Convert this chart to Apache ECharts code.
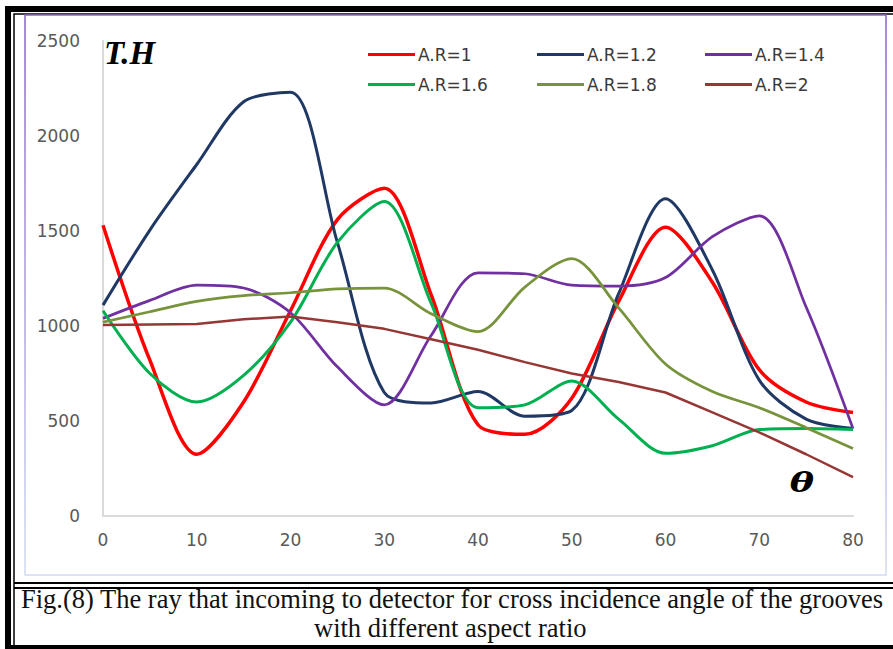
<!DOCTYPE html>
<html>
<head>
<meta charset="utf-8">
<script src="https://cdn.jsdelivr.net/npm/echarts@6/dist/echarts.min.js"></script>
<style>
  html, body { margin: 0; padding: 0; background: #fff; }
  #chart { width: 893px; height: 649px; }
</style>
</head>
<body>
<div id="chart"></div>
<script>
// incidence angle (deg), every 5 deg
const theta = [0, 5, 10, 15, 20, 25, 30, 35, 40, 45, 50, 55, 60, 65, 70, 75, 80]

// T.H per aspect ratio
const ar10 = [1530, 820, 325, 600, 1080, 1560, 1725, 1165, 480, 430, 620, 1130, 1520, 1230, 770, 600, 545]
const ar12 = [1110, 1505, 1850, 2180, 2230, 1440, 650, 595, 655, 525, 555, 1170, 1670, 1295, 715, 510, 460]
const ar14 = [1040, 1135, 1215, 1200, 1070, 785, 585, 950, 1280, 1275, 1215, 1210, 1255, 1470, 1580, 1100, 460]
const ar16 = [1080, 750, 600, 740, 1020, 1440, 1655, 1120, 570, 585, 710, 510, 330, 370, 455, 460, 455]
const ar18 = [1020, 1075, 1130, 1160, 1175, 1195, 1200, 1065, 970, 1205, 1355, 1095, 800, 655, 570, 465, 355]
const ar20 = [1005, 1008, 1010, 1035, 1050, 1020, 985, 930, 875, 810, 750, 705, 650, 545, 440, 325, 205]

const yTicks = [0, 500, 1000, 1500, 2000, 2500]
const caption = [
  'Fig.(8) The ray that incoming to detector for cross incidence angle of the grooves',
  'with different aspect ratio'
]

const pairs = (ys) => theta.map((t, i) => [t, ys[i]])

function line(name, ys, color, width, smooth = 0.3) {
  return {
    name,
    type: 'line',
    data: pairs(ys),
    smooth,
    symbol: 'none',
    lineStyle: { color, width },
    itemStyle: { color },
    z: 3
  }
}

function legendCol(left, names) {
  return {
    orient: 'vertical',
    left,
    top: 41,
    data: names,
    icon: 'rect',
    itemWidth: 47,
    itemHeight: 3,
    itemGap: 13,
    textStyle: { color: '#3a3a3a', fontSize: 17, fontFamily: 'DejaVu Sans', padding: [0, 0, 0, -2] }
  }
}

const chart = echarts.init(document.getElementById('chart'), null, { renderer: 'svg' })

chart.setOption({
  animation: false,
  backgroundColor: '#fff',
  grid: { left: 103, right: 40, top: 41, bottom: 133 },
  legend: [
    legendCol(363, ['A.R=1', 'A.R=1.6']),
    legendCol(532, ['A.R=1.2', 'A.R=1.8']),
    legendCol(700, ['A.R=1.4', 'A.R=2'])
  ],
  xAxis: {
    type: 'value',
    min: 0,
    max: 80,
    interval: 10,
    axisLine: { lineStyle: { color: '#d9d9d9', width: 2 } },
    axisTick: { show: false },
    splitLine: { show: false },
    axisLabel: { color: '#595959', fontSize: 17, fontFamily: 'DejaVu Sans', margin: 15 }
  },
  yAxis: {
    type: 'value',
    min: yTicks[0],
    max: yTicks[yTicks.length - 1],
    interval: 500,
    axisLine: { show: true, lineStyle: { color: '#d9d9d9', width: 2 } },
    axisTick: { show: false },
    splitLine: { show: false },
    axisLabel: {
      color: '#595959',
      fontSize: 17,
      fontFamily: 'DejaVu Sans',
      margin: 23,
      formatter: (v) => String(v)
    }
  },
  series: [
    line('A.R=1', ar10, '#ff0000', 3.5),
    line('A.R=1.2', ar12, '#1f3864', 3),
    line('A.R=1.4', ar14, '#7030a0', 2.75),
    line('A.R=1.6', ar16, '#00b050', 3),
    line('A.R=1.8', ar18, '#77933c', 2.75),
    line('A.R=2', ar20, '#953735', 2.5, false)
  ],
  graphic: [
    // outer frame
    { type: 'rect', shape: { x: 8, y: 9, width: 900, height: 639 }, style: { fill: 'none', stroke: '#000', lineWidth: 6 }, silent: true },
    { type: 'rect', shape: { x: 14, y: 14, width: 900, height: 632 }, style: { fill: 'none', stroke: '#000', lineWidth: 1.5 }, silent: true },
    // chart area frame
    {
      type: 'rect',
      shape: { x: 25, y: 15, width: 861, height: 560 },
      style: {
        fill: 'none',
        lineWidth: 1.5,
        stroke: new echarts.graphic.LinearGradient(0, 0, 0, 1, [
          { offset: 0, color: '#8a63c6' },
          { offset: 1, color: '#cfdaf2' }
        ])
      },
      silent: true
    },
    // caption separator
    { type: 'line', shape: { x1: 14, y1: 583, x2: 893, y2: 583 }, style: { stroke: '#000', lineWidth: 2 }, silent: true },
    { type: 'line', shape: { x1: 14, y1: 588, x2: 893, y2: 588 }, style: { stroke: '#000', lineWidth: 2 }, silent: true },
    // axis titles
    { type: 'text', left: 104, top: 36, style: { text: 'T.H', font: 'italic bold 33px "Liberation Serif"', fill: '#000' }, z: 10 },
    {
      type: 'text', x: 802, y: 483, scaleX: 1.35,
      style: { text: 'θ', x: 0, y: 0, align: 'center', verticalAlign: 'middle', font: 'italic bold 27px "DejaVu Serif"', fill: '#000' },
      z: 10
    },
    // caption
    { type: 'text', left: 21, top: 585, style: { text: caption[0], font: '26.5px "Liberation Serif"', fill: '#111' } },
    { type: 'text', left: 314, top: 614, style: { text: caption[1], font: '26.5px "Liberation Serif"', fill: '#111' } }
  ]
})
</script>
</body>
</html>
